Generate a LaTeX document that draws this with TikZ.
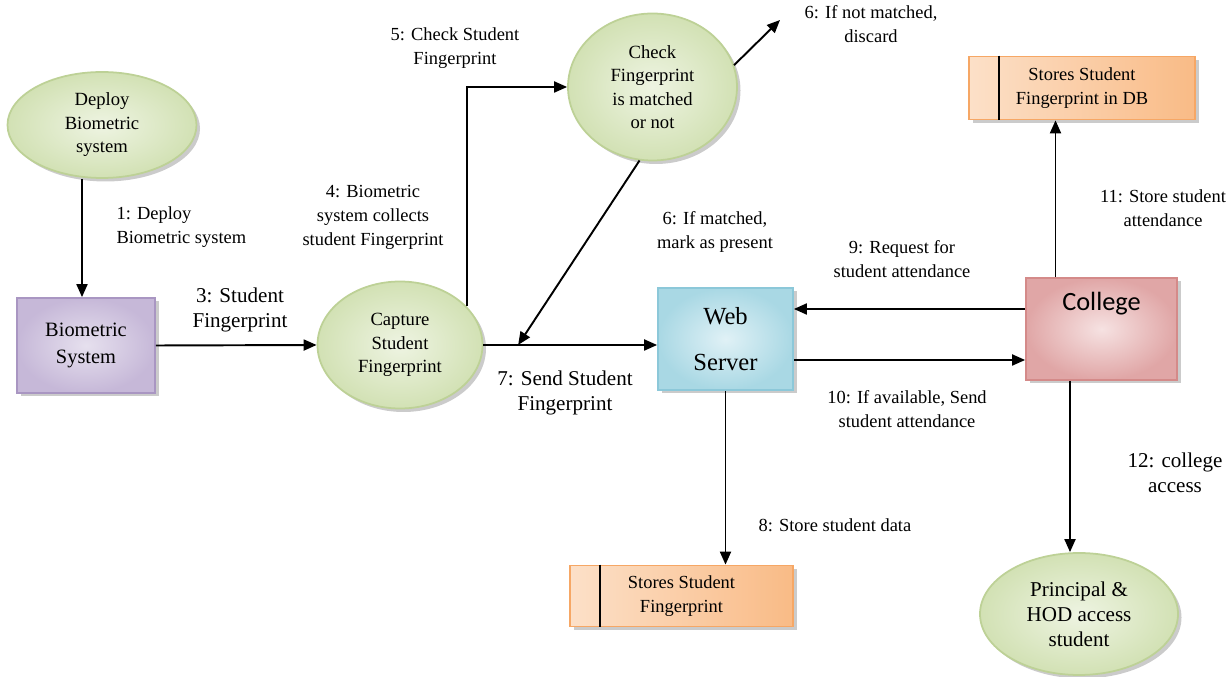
\documentclass[tikz,border=0pt]{standalone}
\usepackage{fontspec}
\setmainfont{Liberation Serif}
\newfontfamily\calibri{Carlito}
\usepackage{xcolor}
\usetikzlibrary{positioning, calc, arrows.meta, shapes.geometric, shadows}
\definecolor{procfill}{HTML}{D2E1B4}
\definecolor{proclight}{HTML}{EEF4E2}
\definecolor{procline}{HTML}{BDD196}
\definecolor{sysfill}{HTML}{C6B8D8}
\definecolor{syslight}{HTML}{E6E0EE}
\definecolor{sysline}{HTML}{A996C2}
\definecolor{webfill}{HTML}{A9D8E4}
\definecolor{weblight}{HTML}{E0F1F6}
\definecolor{webline}{HTML}{8CC8D9}
\definecolor{colfill}{HTML}{E0A6A6}
\definecolor{collight}{HTML}{F6E2E2}
\definecolor{colline}{HTML}{D48A89}
\definecolor{storefill}{HTML}{F9BB86}
\definecolor{storelight}{HTML}{FCE0C8}
\definecolor{storeline}{HTML}{F6A765}
\tikzset{every picture/.append style={thick}}
\tikzset{
  shade box/.style={drop shadow={shadow xshift=0.07cm, shadow yshift=-0.07cm, fill=black!45, opacity=0.45}},
  proc/.style={ellipse, draw=procline, line width=1pt, inner color=proclight, outer color=procfill,
    align=center, inner sep=0pt, font=\fontsize{10.6}{13.4}\selectfont, shade box},
  sysbox/.style={rectangle, draw=sysline, line width=1pt, inner color=syslight, outer color=sysfill,
    align=center, inner sep=0pt, shade box},
  store/.style={rectangle, draw=storeline, line width=1pt, left color=storelight, right color=storefill,
    align=center, inner sep=0pt, font=\fontsize{10.5}{13.6}\selectfont, shade box},
  lbl/.style={align=center, font=\fontsize{10.5}{13.6}\selectfont},
  biglbl/.style={align=center, font=\fontsize{12}{14}\selectfont},
  flow/.style={line width=1.1pt, -{Triangle[length=0.26cm, width=0.22cm]}}
}
\begin{document}
\begin{tikzpicture}
  \useasboundingbox (0,0) rectangle (24.62,13.54);

  % Left: deploy and biometric system
  \node[proc, minimum width=3.78cm, minimum height=2.12cm] (deploy) at (2.04,11.04) {Deploy\\Biometric\\system};
  \node[sysbox, minimum width=2.76cm, minimum height=1.9cm, font=\fontsize{11.6}{15.3}\selectfont] (biosys) at (1.72,6.63) {Biometric\\System};

  % Middle: capture and check
  \node[proc, minimum width=3.3cm, minimum height=2.54cm] (capture) at (8.00,6.64) {Capture\\Student\\Fingerprint};
  \node[proc, minimum width=3.38cm, minimum height=2.94cm] (check) at (13.05,11.80) {Check\\Fingerprint\\is matched\\or not};
  \coordinate (discard) at (15.6,13.14);

  % Web server and its store
  \node[sysbox, draw=webline, inner color=weblight, outer color=webfill, minimum width=2.7cm, minimum height=2.04cm,
    font=\fontsize{14}{26.5}\selectfont] (web) at (14.51,6.76) {Web\\Server};
  \node[store, minimum width=4.46cm, minimum height=1.22cm] (stdstore) at (13.63,1.62) {Stores Student\\Fingerprint};
  \draw[line width=1pt] ($(stdstore.north west)!0.138!(stdstore.north east)$) -- ($(stdstore.south west)!0.138!(stdstore.south east)$);

  % Right: college, DB and principal
  \node[sysbox, draw=colline, inner color=collight, outer color=colfill, minimum width=3.02cm,
    text height=0.56cm, text depth=1.28cm, inner sep=0.1cm, font=\calibri\fontsize{15}{18}\selectfont] (college) at (22.03,6.96) {College};
  \node[store, minimum width=4.52cm, minimum height=1.26cm] (db) at (21.64,11.78) {Stores Student\\Fingerprint in DB};
  \draw[line width=1pt] ($(db.north west)!0.137!(db.north east)$) -- ($(db.south west)!0.137!(db.south east)$);
  \node[proc, minimum width=3.96cm, minimum height=2.44cm, font=\fontsize{12}{14.2}\selectfont] (principal) at (21.58,1.26) {Principal \&\\HOD access\\student};

  % Flows
  \draw[flow] ([xshift=-0.4cm]deploy.south) -- ([xshift=-0.4cm]deploy.south |- biosys.north);
  \draw[flow] (biosys.east) -- (capture.west);
  \draw[flow] (capture.30) |- (check.west);
  \draw[flow] (check.15) -- (discard);
  \draw[flow] (capture.east) -- (capture.east -| web.west);
  \coordinate (join) at ($(capture.east)!0.2!(capture.east -| web.west)$);
  \draw[flow] (check.-100) -- (join);
  \draw[flow] (web.south) -- (web.south |- stdstore.north);
  \draw[flow] ([yshift=0.4cm]college.west) -- ([yshift=0.4cm]college.west -| web.east);
  \draw[flow] ([yshift=-0.62cm]college.west -| web.east) -- ([yshift=-0.62cm]college.west);
  \draw[flow] ([xshift=-0.92cm]college.north) -- ([xshift=-0.92cm]college.north |- db.south);
  \draw[flow] ([xshift=-0.63cm]college.south) -- ([xshift=-0.63cm]college.south |- principal.north);

  % Labels
  \node[lbl, align=left, anchor=west] (l1) at (2.20,8.99) {1: Deploy\\Biometric system};
  \node[biglbl] (l3) at (4.80,7.34) {3: Student\\Fingerprint};
  \node[lbl] (l4) at (7.46,9.20) {4: Biometric\\system collects\\student Fingerprint};
  \node[lbl] (l5) at (9.10,12.58) {5: Check Student\\Fingerprint};
  \node[lbl] (l6a) at (17.42,13.06) {6: If not matched,\\discard};
  \node[lbl] (l6b) at (14.30,8.90) {6: If matched,\\mark as present};
  \node[biglbl] (l7) at (11.30,5.68) {7: Send Student\\Fingerprint};
  \node[lbl, anchor=west] (l8) at (15.04,3.04) {8: Store student data};
  \node[lbl] (l9) at (18.04,8.36) {9: Request for\\student attendance};
  \node[lbl] (l10) at (18.14,5.36) {10: If available, Send\\student attendance};
  \node[lbl] (l11) at (23.26,9.38) {11: Store student\\attendance};
  \node[biglbl] (l12) at (23.50,4.08) {12: college\\access};
\end{tikzpicture}
\end{document}
